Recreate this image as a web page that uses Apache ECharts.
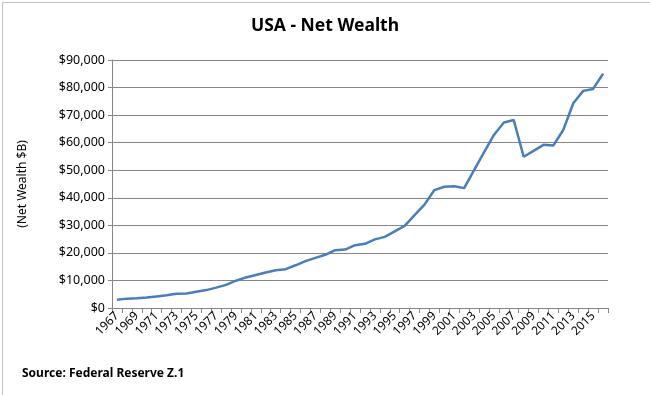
<!DOCTYPE html>
<html>
<head>
<meta charset="utf-8">
<script src="https://cdn.jsdelivr.net/npm/echarts@6/dist/echarts.min.js"></script>
<style>
html,body{margin:0;padding:0;background:#fff;}
#c{width:650px;height:395px;}
</style>
</head>
<body>
<div id="c"></div>
<script>
var years = [];
for (var y = 1967; y <= 2016; y++) years.push(String(y));

var netWealth = [
  3000, 3400, 3500, 3800, 4200, 4600, 5200, 5300, 5900, 6500,
  7400, 8400, 9900, 11100, 12000, 12900, 13700, 14100, 15500, 17000,
  18200, 19300, 21000, 21200, 22800, 23300, 24900, 25800, 27800, 29800,
  33700, 37500, 42800, 44000, 44200, 43500, 50000, 56500, 62800, 67300,
  68200, 54900, 57000, 59200, 59000, 64700, 74300, 78800, 79500, 85000
];

var yTicks = { min: 0, max: 90000, interval: 10000 };

var chart = echarts.init(document.getElementById('c'));
chart.setOption({
  animation: false,
  backgroundColor: '#ffffff',
  title: {
    text: 'USA - Net Wealth',
    left: 'center',
    top: 12,
    textStyle: { fontFamily: 'Noto Sans', fontWeight: 'bold', fontSize: 17.5, color: '#000' }
  },
  grid: { left: 112, right: 42, top: 60, bottom: 87 },
  xAxis: {
    type: 'category',
    data: years,
    boundaryGap: true,
    axisLine: { lineStyle: { color: '#868686', width: 1 } },
    axisTick: { show: true, interval: 0, length: 5, lineStyle: { color: '#868686' } },
    axisLabel: {
      interval: 1,
      rotate: 45,
      margin: 6,
      fontFamily: 'Noto Sans',
      fontSize: 12,
      color: '#000'
    }
  },
  yAxis: {
    type: 'value',
    min: yTicks.min,
    max: yTicks.max,
    interval: yTicks.interval,
    name: '(Net Wealth $B)',
    nameLocation: 'middle',
    nameRotate: 90,
    nameGap: 83,
    nameTextStyle: { fontFamily: 'Noto Sans', fontSize: 12, color: '#000' },
    axisLine: { show: true, lineStyle: { color: '#868686', width: 1 } },
    axisTick: { show: true, length: 4, lineStyle: { color: '#868686' } },
    splitLine: { lineStyle: { color: '#868686', width: 1 } },
    axisLabel: {
      margin: 7,
      fontFamily: 'Noto Sans',
      fontSize: 12.5,
      color: '#000',
      formatter: function (v) { return '$' + v.toLocaleString('en-US'); }
    }
  },
  graphic: [
    {
      type: 'rect',
      left: 0, top: 0,
      shape: { x: 0.5, y: 0.5, width: 649, height: 394 },
      style: { fill: 'none', stroke: '#bfbfbf', lineWidth: 1 },
      silent: true
    },
    {
      type: 'text',
      left: 22,
      top: 368,
      style: {
        text: 'Source: Federal Reserve Z.1',
        fontFamily: 'Noto Sans',
        fontWeight: 'bold',
        fontSize: 12,
        fill: '#000'
      }
    }
  ],
  series: [{
    type: 'line',
    data: netWealth,
    symbol: 'none',
    lineStyle: { color: '#4a7ebb', width: 2.5 },
    itemStyle: { color: '#4a7ebb' }
  }]
});
</script>
</body>
</html>
